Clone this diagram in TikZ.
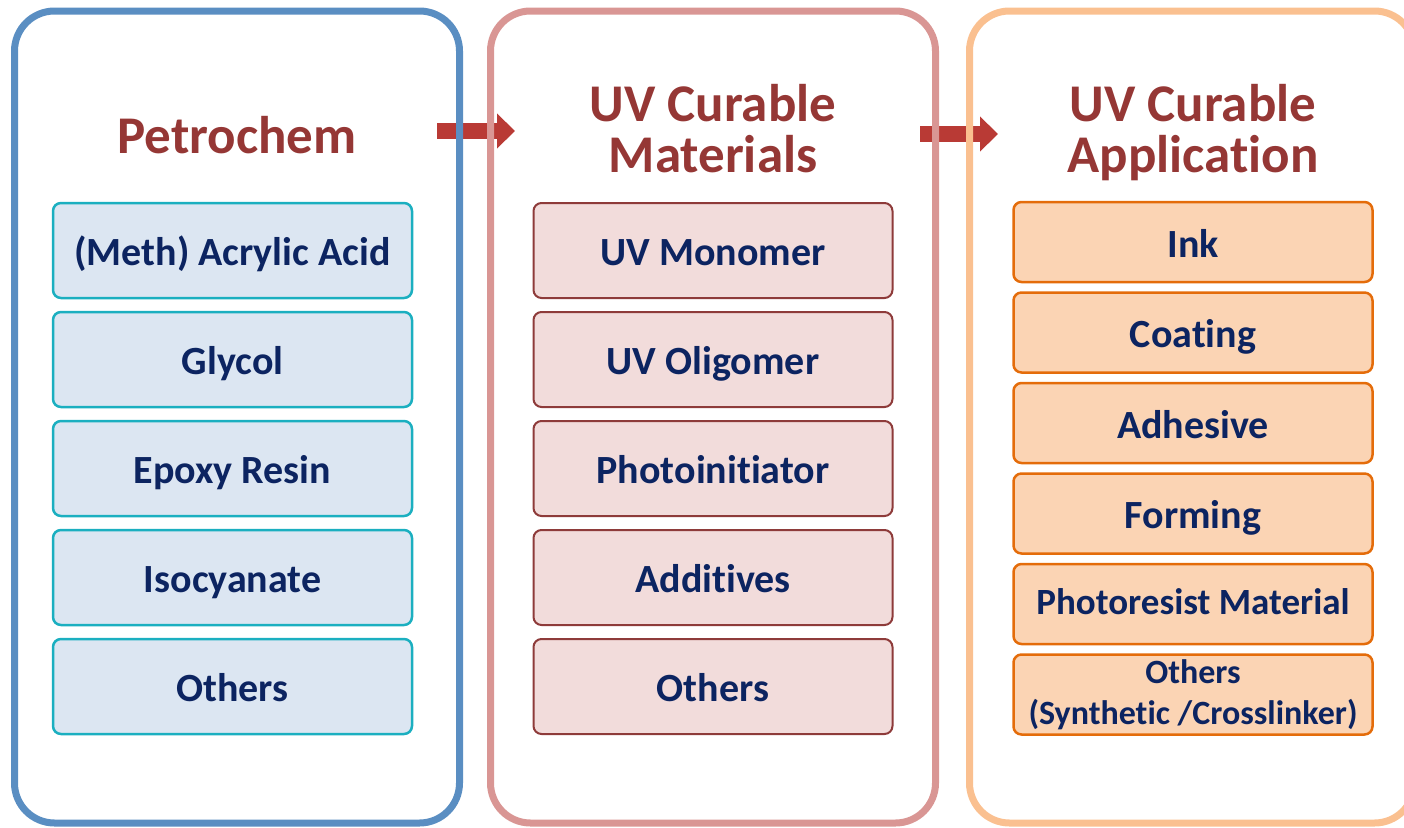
\documentclass[tikz,border=0pt]{standalone}
\usepackage{fontspec}
\setmainfont{Carlito}[Ligatures=NoCommon, RawFeature={-liga;-clig;-calt}]
\usetikzlibrary{arrows.meta}
\definecolor{pblue}{HTML}{5A8EC2}
\definecolor{ppink}{HTML}{D99694}
\definecolor{porange}{HTML}{FAC090}
\definecolor{titlered}{HTML}{953735}
\definecolor{navy}{HTML}{0C2461}
\definecolor{bfill}{HTML}{DCE6F2}
\definecolor{bline}{HTML}{1BAFC0}
\definecolor{rfill}{HTML}{F2DCDB}
\definecolor{rline}{HTML}{8E3B3A}
\definecolor{ofill}{HTML}{FBD4B4}
\definecolor{oline}{HTML}{E46C0A}
\definecolor{arrowred}{HTML}{B93A35}
\begin{document}
\begin{tikzpicture}[x=1pt,y=-1pt,
  panel/.style={rectangle, rounded corners=40pt, line width=7pt, minimum width=445pt, minimum height=812pt, inner sep=0pt},
  title/.style={text=titlered, font=\fontsize{53}{51}\selectfont\bfseries, align=center, inner sep=0pt},
  itembox/.style={rectangle, rounded corners=8pt, line width=2.5pt, minimum width=359pt, text=navy, font=\fontsize{40}{48}\selectfont\bfseries, align=center, inner sep=0pt},
  boxA/.style={itembox, fill=bfill, draw=bline, minimum height=95pt, text height=29pt, text depth=0pt},
  boxB/.style={itembox, fill=rfill, draw=rline, minimum height=95pt, line width=2pt, text height=29pt, text depth=0pt},
  boxC/.style={itembox, fill=ofill, draw=oline, minimum height=80pt, text height=30pt, text depth=0pt},
  flowarrow/.style={draw=arrowred, line width=16pt, -{Triangle[length=18pt, width=34pt]}}
]
\useasboundingbox (0,0) rectangle (1404,827);
% arrows (beneath the panels)
\coordinate (a1s) at (437,131);
\coordinate (a1e) at (515,131);
\coordinate (a2s) at (920,134);
\coordinate (a2e) at (998,134);
\draw[flowarrow] (a1s) -- (a1e);
\draw[flowarrow] (a2s) -- (a2e);
% panels
\node[panel, draw=pblue] (P1) at (237,417) {};
\node[panel, draw=ppink] (P2) at (713,417) {};
\begin{scope}
\clip (0,0) rectangle (1404,827);
\node[panel, draw=porange] (P3) at (1192,417) {};
\end{scope}
% titles
\node[title, anchor=base] (T1) at (237,153) {Petrochem};
\node[title, anchor=base] (T2) at (713,172) {UV Curable\\Materials};
\node[title, anchor=base] (T3) at (1193,172) {UV Curable\\Application};
% panel 1 items
\node[boxA] (A1) at (232.5,250.5) {(Meth) Acrylic Acid};
\node[boxA] (A2) at (232.5,359.5) {Glycol};
\node[boxA] (A3) at (232.5,468.5) {Epoxy Resin};
\node[boxA] (A4) at (232.5,577.5) {Isocyanate};
\node[boxA] (A5) at (232.5,686.5) {Others};
% panel 2 items
\node[boxB] (B1) at (713,250.5) {UV Monomer};
\node[boxB] (B2) at (713,359.5) {UV Oligomer};
\node[boxB] (B3) at (713,468.5) {Photoinitiator};
\node[boxB] (B4) at (713,577.5) {Additives};
\node[boxB] (B5) at (713,686.5) {Others};
% panel 3 items
\node[boxC] (C1) at (1193,242) {Ink};
\node[boxC] (C2) at (1193,332.5) {Coating};
\node[boxC] (C3) at (1193,423) {Adhesive};
\node[boxC] (C4) at (1193,513.5) {Forming};
\node[boxC, font=\fontsize{37}{44}\selectfont\bfseries, text height=20pt] (C5) at (1193,604) {Photoresist Material};
\node[itembox, fill=ofill, draw=oline, minimum height=80pt, font=\fontsize{34}{41}\selectfont\bfseries] (C6) at (1193,694.5) {Others\\(Synthetic /Crosslinker)};
\end{tikzpicture}
\end{document}
